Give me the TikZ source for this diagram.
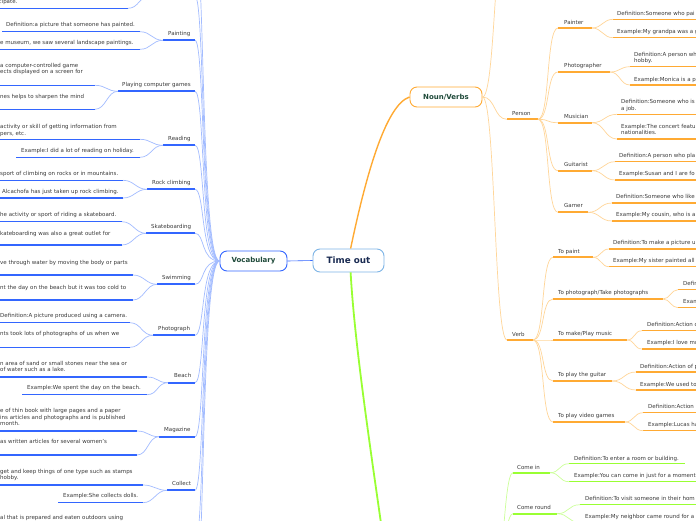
\documentclass[tikz,border=0pt]{standalone}
\usepackage{fontspec}
\setmainfont{DejaVu Sans}
\definecolor{vblue}{HTML}{3366FF}
\definecolor{vblueL}{HTML}{A3BCFF}
\definecolor{vorange}{HTML}{FFAA33}
\definecolor{vorangeL}{HTML}{FFD699}
\definecolor{vgreen}{HTML}{99FF33}
\definecolor{vgreenL}{HTML}{CCFF99}
\definecolor{txtgray}{HTML}{3A3A3A}
\definecolor{dkgreen}{HTML}{1F4A3A}
\definecolor{navy}{HTML}{1A2B52}
\definecolor{rootborder}{HTML}{7DB4E6}
\tikzset{
  txt/.style={anchor=south west, inner sep=0pt, text depth=0pt, align=left,
    font=\fontsize{5.5}{6.5}\selectfont, text=txtgray},
  ulB/.style={draw=vblue, line width=1.3pt},
  lbB/.style={draw=vblue, line width=2pt},
  ulO/.style={draw=vorange, line width=1.3pt},
  lbO/.style={draw=vorange, line width=2pt},
  ulG/.style={draw=vgreen, line width=1.3pt},
  lbG/.style={draw=vgreen, line width=2pt},
  cB/.style={draw=vblueL, line width=0.7pt},
  cO/.style={draw=vorangeL, line width=0.7pt},
  cG/.style={draw=vgreenL, line width=0.7pt},
  mainO/.style={draw=vorange, line width=1.4pt},
  mainG/.style={draw=vgreen, line width=1.8pt},
  rootbox/.style={draw=rootborder, fill=white, line width=0.9pt, rounded corners=7pt,
    minimum width=71pt, minimum height=23pt, inner sep=0pt,
    font=\fontsize{8.8}{10}\selectfont\bfseries, text=navy},
  vocabbox/.style={draw=vblue, fill=white, line width=0.9pt, rounded corners=7pt,
    minimum width=67pt, minimum height=20pt, inner sep=0pt,
    font=\fontsize{7}{8}\selectfont\bfseries, text=dkgreen},
  nvbox/.style={draw=vorange, fill=white, line width=0.9pt, rounded corners=7pt,
    minimum width=72pt, minimum height=20pt, inner sep=0pt,
    font=\fontsize{7}{8}\selectfont\bfseries, text=dkgreen},
}
% name, underline style, text x, baseline y, underline x1, x2, y, text
\newcommand\mmleaf[8]{%
  \node[txt] (#1) at (#3,#4) {#8};
  \coordinate (#1L) at (#5,#7);
  \coordinate (#1R) at (#6,#7);
  \draw[#2] (#1L) -- (#1R);
}
\newcommand\mmconn[4]{\draw[#1] (#2) .. controls +(#4,0) and +(-#4,0) .. (#3);}
\newcommand\mmbundle[1]{\draw[cB] (#1) .. controls +(10,0) and +(-19,0) .. (vocab.west);}
\begin{document}
\begin{tikzpicture}[x=1pt, y=-1pt]
\useasboundingbox (0,0) rectangle (696,520);
\clip (0,0) rectangle (696,520);
\fill[white] (0,0) rectangle (696,520);

% ---------------- main nodes
\node[rootbox] (timeout) at (348.5,260.5) {Time out};
\node[vocabbox] (vocab) at (253.5,261) {Vocabulary};
\node[nvbox] (nv) at (446,97) {Noun/Verbs};

% ---------------- Vocabulary side
\coordinate (topAL) at (150,-4);
\coordinate (topAR) at (195,-4);
\coordinate (topBR) at (195,-60);
\coordinate (botAR) at (195,545);
\coordinate (botBR) at (195,600);

\mmleaf{dpate}{ulB}{-1.5}{4}{0}{128}{8.3}{cipate.}

\mmleaf{paintD}{ulB}{6}{27}{2}{140}{31.7}{Definition:a picture that someone has painted.}
\mmleaf{paintE}{ulB}{0}{45}{0}{140}{49.3}{e museum, we saw several landscape paintings.}
\mmleaf{painting}{lbB}{168}{35.7}{163}{195}{40.3}{Painting}

\mmleaf{pcgD}{ulB}{0}{73.7}{0}{95}{85.3}{a computer-controlled game\\ects displayed on a screen for}
\mmleaf{pcgE}{ulB}{0}{99}{0}{95}{109.3}{nes helps to sharpen the mind}
\mmleaf{pcg}{lbB}{122}{87}{118}{195}{91.3}{Playing computer games}

\mmleaf{readD}{ulB}{0}{135.3}{0}{140}{139.3}{activity or skill of getting information from\\pers, etc.}
\mmleaf{readE}{ulB}{21}{152.7}{16}{140}{157.3}{Example:I did a lot of reading on holiday.}
\mmleaf{reading}{lbB}{168}{141}{163}{195}{145.3}{Reading}

\mmleaf{rockD}{ulB}{0}{176}{0}{123}{180.3}{sport of climbing on rocks or in mountains.}
\mmleaf{rockE}{ulB}{2}{194}{0}{123}{198}{Alcachofa has just taken up rock climbing.}
\mmleaf{rock}{lbB}{152}{185}{147}{195}{189.3}{Rock climbing}

\mmleaf{skD}{ulB}{0}{217}{0}{122}{221.7}{he activity or sport of riding a skateboard.}
\mmleaf{skE}{ulB}{0}{235.3}{0}{122}{245}{kateboarding was also a great outlet for}
\mmleaf{skate}{lbB}{151}{229}{146}{195}{233.3}{Skateboarding}

\mmleaf{swD}{ulB}{0}{264.3}{0}{133}{275}{ve through water by moving the body or parts}
\mmleaf{swE}{ulB}{0}{289.3}{0}{133}{300}{nt the day on the beach but it was too cold to}
\mmleaf{swim}{lbB}{162}{280}{157}{195}{284.3}{Swimming}

\mmleaf{phD}{ulB}{0}{318}{0}{130}{322.7}{Definition:A picture produced using a camera.}
\mmleaf{phE}{ulB}{0}{336}{0}{130}{347.3}{nts took lots of photographs of us when we}
\mmleaf{photo}{lbB}{158}{331}{153}{195}{335.3}{Photograph}

\mmleaf{beD}{ulB}{0}{372}{0}{147}{377}{n area of sand or small stones near the sea or\\of water such as a lake.}
\mmleaf{beE}{ulB}{27}{389.3}{22}{147}{394.7}{Example:We spent the day on the beach.}
\mmleaf{beach}{lbB}{174}{378}{168}{195}{382.7}{Beach}

\mmleaf{mgD}{ulB}{0}{425.7}{0}{137}{431}{e of thin book with large pages and a paper\\ins articles and photographs and is published\\month.}
\mmleaf{mgE}{ulB}{0}{444}{0}{137}{455}{as written articles for several women's}
\mmleaf{mag}{lbB}{164}{432}{159}{195}{436.7}{Magazine}

\mmleaf{coD}{ulB}{0}{479.7}{0}{143}{485}{get and keep things of one type such as stamps\\hobby.}
\mmleaf{coE}{ulB}{63}{498}{58}{143}{502.7}{Example:She collects dolls.}
\mmleaf{collect}{lbB}{172}{485.7}{167}{195}{490.3}{Collect}

\node[txt] (picD) at (0,520) {al that is prepared and eaten outdoors using};

% leaf connectors (left)
\mmconn{cB}{dpateR}{topAL}{11}
\mmconn{cB}{paintDR}{paintingL}{11}
\mmconn{cB}{paintER}{paintingL}{11}
\mmconn{cB}{pcgDR}{pcgL}{11}
\mmconn{cB}{pcgER}{pcgL}{11}
\mmconn{cB}{readDR}{readingL}{11}
\mmconn{cB}{readER}{readingL}{11}
\mmconn{cB}{rockDR}{rockL}{11}
\mmconn{cB}{rockER}{rockL}{11}
\mmconn{cB}{skDR}{skateL}{11}
\mmconn{cB}{skER}{skateL}{11}
\mmconn{cB}{swDR}{swimL}{11}
\mmconn{cB}{swER}{swimL}{11}
\mmconn{cB}{phDR}{photoL}{11}
\mmconn{cB}{phER}{photoL}{11}
\mmconn{cB}{beDR}{beachL}{11}
\mmconn{cB}{beER}{beachL}{11}
\mmconn{cB}{mgDR}{magL}{11}
\mmconn{cB}{mgER}{magL}{11}
\mmconn{cB}{coDR}{collectL}{11}
\mmconn{cB}{coER}{collectL}{11}

% bundle to Vocabulary
\mmbundle{topBR}
\mmbundle{topAR}
\mmbundle{paintingR}
\mmbundle{pcgR}
\mmbundle{readingR}
\mmbundle{rockR}
\mmbundle{skateR}
\mmbundle{swimR}
\mmbundle{photoR}
\mmbundle{beachR}
\mmbundle{magR}
\mmbundle{collectR}
\mmbundle{botAR}
\mmbundle{botBR}

% ---------------- Noun/Verbs side
\coordinate (nvTop) at (507,-80);

\mmleaf{person}{lbO}{512}{116}{507}{538}{119.3}{Person}
\mmleaf{painter}{lbO}{564}{24.3}{558}{592}{28}{Painter}
\mmleaf{painterD}{ulO}{617}{15.3}{613}{700}{19.3}{Definition:Someone who pai}
\mmleaf{painterE}{ulO}{617}{33.7}{613}{700}{37.7}{Example:My grandpa was a g}
\mmleaf{photog}{lbO}{564}{68}{558}{610}{72}{Photographer}
\mmleaf{photogD}{ulO}{634}{63}{630}{700}{66.7}{Definition:A person wh\\hobby.}
\mmleaf{photogE}{ulO}{634}{81.3}{630}{700}{85}{Example:Monica is a p}
\mmleaf{musician}{lbO}{564}{119}{558}{592}{122.7}{Musician}
\mmleaf{musD}{ulO}{621}{110.3}{617}{700}{114.3}{Definition:Someone who is\\a job.}
\mmleaf{musE}{ulO}{621}{135}{617}{700}{139}{Example:The concert featu\\nationalities.}
\mmleaf{guitarist}{lbO}{564}{167}{558}{592}{170.7}{Guitarist}
\mmleaf{guitD}{ulO}{619}{158}{615}{700}{161.7}{Definition:A person who pla}
\mmleaf{guitE}{ulO}{619}{176}{615}{700}{180}{Example:Susan and I are fo}
\mmleaf{gamer}{lbO}{564}{208}{558}{588}{212.3}{Gamer}
\mmleaf{gamerD}{ulO}{616}{198.7}{612}{700}{203}{Definition:Someone who like}
\mmleaf{gamerE}{ulO}{616}{217}{612}{700}{221}{Example:My cousin, who is a}

\mmleaf{verb}{lbO}{512}{336.3}{507}{533}{340}{Verb}
\mmleaf{topaint}{lbO}{558}{253.7}{553}{593}{257.3}{To paint}
\mmleaf{tpD}{ulO}{613}{244.7}{609}{700}{249}{Definition:To make a picture u}
\mmleaf{tpE}{ulO}{613}{263}{609}{700}{266.7}{Example:My sister painted all}
\mmleaf{tophoto}{lbO}{558}{294.7}{553}{663}{299}{To photograph/Take photographs}
\mmleaf{tphD}{ulO}{683}{285.7}{678}{700}{289.7}{Defin}
\mmleaf{tphE}{ulO}{683}{304}{678}{700}{307.7}{Exam}
\mmleaf{tomusic}{lbO}{558}{336}{553}{627}{340}{To make/Play music}
\mmleaf{tmD}{ulO}{647}{327}{642}{700}{330.7}{Definition:Action o}
\mmleaf{tmE}{ulO}{647}{345}{642}{700}{349}{Example:I love mu}
\mmleaf{toguitar}{lbO}{558}{377}{553}{612}{381}{To play the guitar}
\mmleaf{tgD}{ulO}{640}{368.3}{636}{700}{372}{Definition:Action of p}
\mmleaf{tgE}{ulO}{640}{386.3}{636}{700}{390}{Example:We used to}
\mmleaf{togames}{lbO}{558}{417.7}{553}{625}{422}{To play video games}
\mmleaf{tvD}{ulO}{648}{408.7}{643}{700}{412.7}{Definition:Action}
\mmleaf{tvE}{ulO}{648}{426.7}{643}{700}{430.7}{Example:Lucas ha}

\mmconn{cO}{nv.east}{nvTop}{13}
\mmconn{cO}{nv.east}{personL}{13}
\mmconn{cO}{nv.east}{verbL}{13}
\mmconn{cO}{personR}{painterL}{12}
\mmconn{cO}{personR}{photogL}{12}
\mmconn{cO}{personR}{musicianL}{12}
\mmconn{cO}{personR}{guitaristL}{12}
\mmconn{cO}{personR}{gamerL}{12}
\mmconn{cO}{painterR}{painterDL}{10}
\mmconn{cO}{painterR}{painterEL}{10}
\mmconn{cO}{photogR}{photogDL}{10}
\mmconn{cO}{photogR}{photogEL}{10}
\mmconn{cO}{musicianR}{musDL}{12}
\mmconn{cO}{musicianR}{musEL}{12}
\mmconn{cO}{guitaristR}{guitDL}{11}
\mmconn{cO}{guitaristR}{guitEL}{11}
\mmconn{cO}{gamerR}{gamerDL}{12}
\mmconn{cO}{gamerR}{gamerEL}{12}
\mmconn{cO}{verbR}{topaintL}{12}
\mmconn{cO}{verbR}{tophotoL}{12}
\mmconn{cO}{verbR}{tomusicL}{12}
\mmconn{cO}{verbR}{toguitarL}{12}
\mmconn{cO}{verbR}{togamesL}{12}
\mmconn{cO}{topaintR}{tpDL}{8}
\mmconn{cO}{topaintR}{tpEL}{8}
\mmconn{cO}{tophotoR}{tphDL}{7}
\mmconn{cO}{tophotoR}{tphEL}{7}
\mmconn{cO}{tomusicR}{tmDL}{8}
\mmconn{cO}{tomusicR}{tmEL}{8}
\mmconn{cO}{toguitarR}{tgDL}{12}
\mmconn{cO}{toguitarR}{tgEL}{12}
\mmconn{cO}{togamesR}{tvDL}{9}
\mmconn{cO}{togamesR}{tvEL}{9}

% ---------------- green side
\coordinate (greenP) at (395,620);
\coordinate (gparR) at (493,600);
\mmleaf{comein}{lbG}{517}{469.3}{513}{550}{472.7}{Come in}
\mmleaf{ciD}{ulG}{574}{460.3}{569}{685}{463.7}{Definition:To enter a room or building.}
\mmleaf{ciE}{ulG}{574}{478}{569}{700}{481.7}{Example:You can come in just for a moment}
\mmleaf{comeround}{lbG}{517}{509.7}{513}{557}{513.7}{Come round}
\mmleaf{crD}{ulG}{585}{501}{580}{700}{504.7}{Definition:To visit someone in their hom}
\mmleaf{crE}{ulG}{585}{518.7}{580}{700}{522.5}{Example:My neighbor came round for a}

\mmconn{cG}{gparR}{comeinL}{10}
\mmconn{cG}{gparR}{comeroundL}{10}
\mmconn{cG}{comeinR}{ciDL}{10}
\mmconn{cG}{comeinR}{ciEL}{10}
\mmconn{cG}{comeroundR}{crDL}{12}
\mmconn{cG}{comeroundR}{crEL}{12}

% ---------------- main connectors
\draw[draw=vblue, line width=0.6pt] (vocab.east) -- (timeout.west);
\draw[mainO] (timeout.80) .. controls (365,180) and (385,105) .. (nv.west);
\draw[mainG] (timeout.-80) .. controls (355,350) and (372,460) .. (greenP);
\end{tikzpicture}
\end{document}
